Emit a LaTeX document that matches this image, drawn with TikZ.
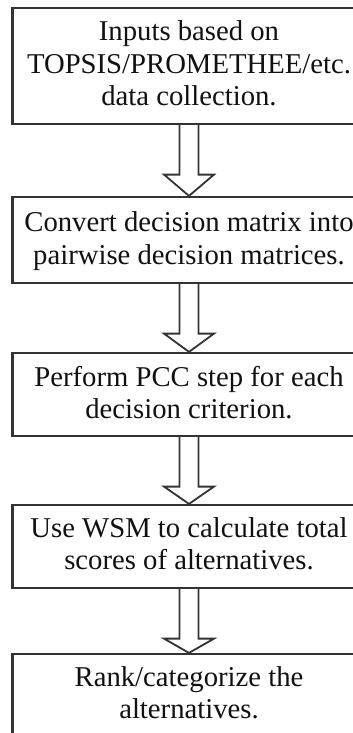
\documentclass[tikz,border=0pt]{standalone}
\usepackage{fontspec}
\setmainfont{Liberation Serif}
\usetikzlibrary{calc}
\definecolor{edge}{HTML}{333333}
\definecolor{ink}{HTML}{111111}
\begin{document}
\begin{tikzpicture}[x=1pt,y=-1pt,
  stepbox/.style={draw=edge,line width=2.2pt,minimum width=353pt,inner sep=0pt},
  lbl/.style={align=center,inner sep=0pt,text=ink,font=\fontsize{28.7pt}{32.5pt}\selectfont},
  blockarrow/.style={draw=edge,line width=1.8pt,fill=white,line join=miter}]
\useasboundingbox (0,0) rectangle (353,733);
\clip (0,0) rectangle (353,733);
\fill[white] (0,0) rectangle (353,733);
% boxes
\node[stepbox,minimum height=116pt] (b1) at (189,66) {};
\node[stepbox,minimum height=86pt] (b2) at (189,240) {};
\node[stepbox,minimum height=83pt] (b3) at (189,394.5) {};
\node[stepbox,minimum height=83pt] (b4) at (189,546.5) {};
\node[stepbox,minimum height=92pt] (b5) at (189,700) {};
% texts
\node[lbl] (t1) at (189,63.7) {Inputs based on\\TOPSIS/PROMETHEE/etc.\\data collection.};
\node[lbl] (t2) at (189,241) {Convert decision matrix into\\pairwise decision matrices.};
\node[lbl] (t3) at (189,392.5) {Perform PCC step for each\\decision criterion.};
\node[lbl] (t4) at (189,543.5) {Use WSM to calculate total\\scores of alternatives.};
\node[lbl] (t5) at (189,692.5) {Rank/categorize the\\alternatives.};
% block arrows
\foreach \a/\b in {b1/b2,b2/b3,b3/b4,b4/b5}{
  \draw[blockarrow] ($(\a.south)+(-9.5,0)$) -- ++(0,49.5) -- ++(-15.5,0)
    -- (\b.north) -- ($(\a.south)+(25,49.5)$) -- ++(-15.5,0) -- ($(\a.south)+(9.5,0)$);
}
\end{tikzpicture}
\end{document}
